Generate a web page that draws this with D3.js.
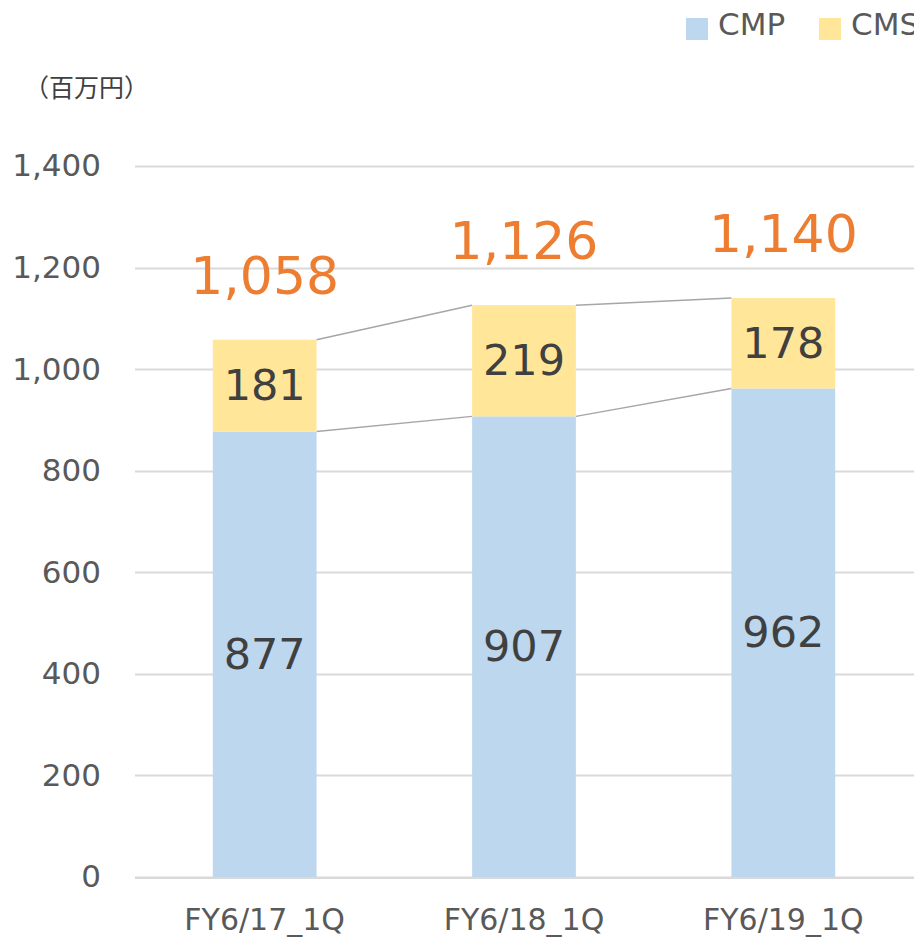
<!DOCTYPE html>
<html>
<head>
<meta charset="utf-8">
<script src="https://cdn.jsdelivr.net/npm/d3@7"></script>
<style>
  body { margin: 0; background: #fff; }
  svg { display: block; font-family: "DejaVu Sans", Verdana, sans-serif; }
</style>
</head>
<body>
<div id="chart"></div>
<script>
// data
const categories = ["FY6/17_1Q", "FY6/18_1Q", "FY6/19_1Q"];
const cmpValues = [877, 907, 962];
const cmsValues = [181, 219, 178];
const totals = [1058, 1126, 1140];
const yTicks = [0, 200, 400, 600, 800, 1000, 1200, 1400];
const seriesNames = ["CMP", "CMS"];
const colors = { CMP: "#BDD7EE", CMS: "#FFE699" };

const width = 914, height = 937;
const margin = { top: 166, right: 0, bottom: 60, left: 135 };

const svg = d3.select("#chart").append("svg")
    .attr("width", width)
    .attr("height", height);

const x = d3.scaleBand()
    .domain(categories)
    .range([margin.left, 913])
    .paddingInner(0.6)
    .paddingOuter(0.3);

const y = d3.scaleLinear()
    .domain([0, 1400])
    .range([877, margin.top]);

// gridlines
svg.append("g")
    .selectAll("line")
    .data(yTicks)
    .join("line")
    .attr("x1", margin.left)
    .attr("x2", width)
    .attr("y1", d => Math.round(y(d)) + 0.5)
    .attr("y2", d => Math.round(y(d)) + 0.5)
    .attr("stroke", "#D9D9D9")
    .attr("stroke-width", 2);

// y axis labels
const yAxis = d3.axisLeft(y)
    .tickValues(yTicks)
    .tickSize(0)
    .tickPadding(0)
    .tickFormat(d3.format(","));
const yg = svg.append("g")
    .attr("transform", "translate(101,0)")
    .call(yAxis);
yg.select(".domain").remove();
yg.selectAll("text")
    .attr("fill", "#595959")
    .attr("font-size", "31px")
    .attr("font-family", "DejaVu Sans, sans-serif");

// stacked data
const stackData = categories.map((c, i) => ({ cat: c, CMP: cmpValues[i], CMS: cmsValues[i] }));
const stack = d3.stack().keys(seriesNames)(stackData);

// connector lines between segments
const lineG = svg.append("g");
stack.forEach(layer => {
    for (let i = 0; i < categories.length - 1; i++) {
        lineG.append("line")
            .attr("x1", x(categories[i]) + x.bandwidth())
            .attr("y1", y(layer[i][1]))
            .attr("x2", x(categories[i + 1]))
            .attr("y2", y(layer[i + 1][1]))
            .attr("stroke", "#A6A6A6")
            .attr("stroke-width", 1.5);
    }
});

// bars
svg.append("g")
    .selectAll("g")
    .data(stack)
    .join("g")
    .attr("fill", d => colors[d.key])
    .selectAll("rect")
    .data(d => d)
    .join("rect")
    .attr("x", d => x(d.data.cat))
    .attr("y", d => y(d[1]))
    .attr("width", x.bandwidth())
    .attr("height", d => y(d[0]) - y(d[1]));

// segment labels
svg.append("g")
    .selectAll("g")
    .data(stack)
    .join("g")
    .selectAll("text")
    .data(d => d)
    .join("text")
    .attr("x", d => x(d.data.cat) + x.bandwidth() / 2)
    .attr("y", d => (y(d[0]) + y(d[1])) / 2)
    .attr("dy", "0.34em")
    .attr("text-anchor", "middle")
    .attr("fill", "#404040")
    .attr("font-size", "43px")
    .text(d => d3.format(",")(d[1] - d[0]));

// total labels
svg.append("g")
    .selectAll("text")
    .data(totals)
    .join("text")
    .attr("x", (d, i) => x(categories[i]) + x.bandwidth() / 2)
    .attr("y", d => y(d) - 46)
    .attr("text-anchor", "middle")
    .attr("fill", "#ED7D31")
    .attr("font-size", "52px")
    .text(d => d3.format(",")(d));

// x axis baseline
svg.append("line")
    .attr("x1", margin.left)
    .attr("x2", width)
    .attr("y1", 878)
    .attr("y2", 878)
    .attr("stroke", "#D9D9D9")
    .attr("stroke-width", 2);

// x axis labels
svg.append("g")
    .selectAll("text")
    .data(categories)
    .join("text")
    .attr("x", d => x(d) + x.bandwidth() / 2)
    .attr("y", 930)
    .attr("text-anchor", "middle")
    .attr("fill", "#595959")
    .attr("font-size", "30px")
    .text(d => d);

// unit label
svg.append("text")
    .attr("x", 24)
    .attr("y", 97)
    .attr("fill", "#404040")
    .attr("font-size", "25px")
    .attr("font-family", "Noto Sans CJK JP, sans-serif")
    .text("（百万円）");

// legend
const legend = svg.append("g")
    .selectAll("g")
    .data(seriesNames)
    .join("g")
    .attr("transform", (d, i) => `translate(${686 + i * 133}, 0)`);
legend.append("rect")
    .attr("x", 0)
    .attr("y", 18)
    .attr("width", 22)
    .attr("height", 22)
    .attr("fill", d => colors[d]);
legend.append("text")
    .attr("x", 32)
    .attr("y", 24)
    .attr("dy", "0.36em")
    .attr("fill", "#595959")
    .attr("font-size", "31px")
    .text(d => d);
</script>
</body>
</html>
